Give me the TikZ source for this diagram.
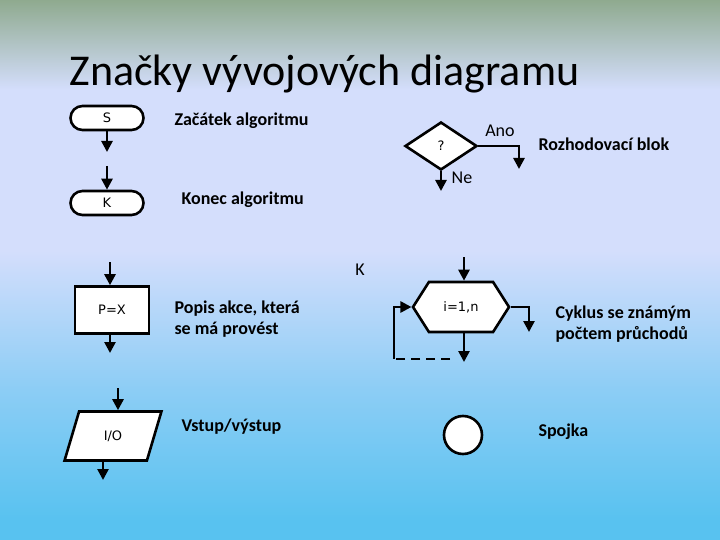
\documentclass[tikz,border=0pt]{standalone}
\usepackage{fontspec}
\setmainfont{Carlito}
\newfontfamily\boxfont{DejaVu Sans}
\usetikzlibrary{arrows.meta,positioning,shapes.geometric,shapes.misc,shapes.symbols}

\definecolor{bgtop}{RGB}{143,170,143}
\definecolor{bgmid}{RGB}{212,222,252}
\definecolor{bglow}{RGB}{140,205,245}
\definecolor{bgbot}{RGB}{88,194,240}
\pgfdeclareverticalshading{slidebg}{100bp}{
  color(0bp)=(bgbot); color(26.8bp)=(bgbot); color(38.9bp)=(bglow);
  color(51.8bp)=(bgmid); color(66.7bp)=(bgmid); color(75bp)=(bgtop); color(100bp)=(bgtop)}

\begin{document}
\begin{tikzpicture}[
  x=1pt, y=-1pt,
  >={Triangle[width=11pt,length=11pt]},
  flow/.style={->, line width=2.6pt},
  sym/.style={draw, line width=2.6pt, fill=white, font=\boxfont\fontsize{13}{15}\selectfont, inner sep=0pt},
  term/.style={sym, rounded rectangle, minimum width=73pt, minimum height=24pt},
  desc/.style={font=\fontsize{18}{21}\selectfont\bfseries, anchor=west, align=left},
  lbl/.style={font=\fontsize{18}{21}\selectfont}
]
\useasboundingbox (0,0) rectangle (720,540);
\shade[shading=slidebg] (0,540) rectangle (720,0);

\node[anchor=base west, font=\fontsize{44}{50}\selectfont] (title) at (66,86) {Značky vývojových diagramu};

% start / end
\node[term] (start) at (107,118) {S};
\coordinate (startout) at (107,152);
\draw[flow] (start) -- (startout);
\coordinate (endin) at (107,166);
\node[term] (end) at (107,203) {K};
\draw[flow] (endin) -- (end);
\node[desc] (startdesc) at (171,121) {Začátek algoritmu};
\node[desc] (enddesc) at (178,200) {Konec algoritmu};

% decision
\node[sym, diamond, minimum width=72pt, minimum height=48pt] (dec) at (441,146) {?};
\coordinate (yescorner) at (519,146);
\coordinate (yesout) at (519,169);
\coordinate (noout) at (441,191);
\draw[flow] (dec.east) -- (yescorner) -- (yesout);
\draw[flow] (dec.south) -- (noout);
\node[lbl] (yes) at (500,131) {Ano};
\node[lbl] (no) at (462,178) {Ne};
\node[desc] (decdesc) at (535,144) {Rozhodovací blok};

\node[lbl] (kmark) at (360,270) {K};

% loop
\node[sym, signal, signal to=west and east, signal pointer angle=115, minimum width=96pt, minimum height=50pt] (loop) at (461,307) {i=1,n};
\coordinate (loopin) at (464,257);
\coordinate (loopout) at (464,362);
\coordinate (exitcorner) at (529,307);
\coordinate (exitout) at (529,332);
\coordinate (backend) at (450,359);
\coordinate (backcorner) at (394,359);
\draw[flow] (loopin) -- (loop.north -| loopin);
\draw[flow] (loop.south -| loopout) -- (loopout);
\draw[flow] (loop.east) -- (exitcorner) -- (exitout);
\draw[line width=2.6pt, dash pattern=on 9pt off 6pt] (backend) -- (backcorner);
\draw[flow] (backcorner) |- (loop.west);
\node[desc] (loopdesc) at (552,324) {Cyklus se známým\\počtem průchodů};

% process
\node[sym, rectangle, minimum width=74pt, minimum height=47pt] (proc) at (112,310) {P=X};
\coordinate (procin) at (110,262);
\coordinate (procout) at (110,353);
\draw[flow] (procin) -- (proc.north -| procin);
\draw[flow] (proc.south -| procout) -- (procout);
\node[desc] (procdesc) at (171,319) {Popis akce, která\\se má provést};

% input / output
\node[sym, trapezium, trapezium left angle=70, trapezium right angle=110, trapezium stretches=true, minimum width=97pt, minimum height=49pt] (io) at (113,436) {I/O};
\coordinate (ioin) at (118,388);
\coordinate (ioout) at (103,480);
\draw[flow] (ioin) -- (io.north -| ioin);
\draw[flow] (io.south -| ioout) -- (ioout);
\node[desc] (iodesc) at (178,427) {Vstup/výstup};

% connector
\node[sym, circle, minimum size=38pt] (conn) at (463,435) {};
\node[desc] (conndesc) at (535,432) {Spojka};
\end{tikzpicture}
\end{document}
